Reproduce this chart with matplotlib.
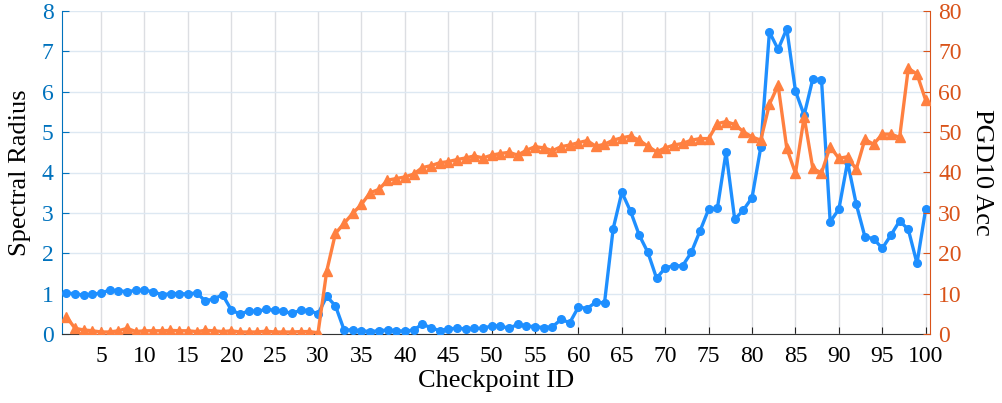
import matplotlib
matplotlib.use("Agg")
import matplotlib.pyplot as plt
import numpy as np

checkpoints = list(range(1, 101))
spectral_radius = [
    1.01, 1.00, 0.96, 0.99, 1.01, 1.09, 1.07, 1.05, 1.08, 1.08,
    1.05, 0.97, 1.00, 1.00, 0.99, 1.02, 0.82, 0.87, 0.97, 0.60,
    0.49, 0.57, 0.56, 0.61, 0.59, 0.56, 0.51, 0.59, 0.58, 0.50,
    0.93, 0.70, 0.10, 0.10, 0.08, 0.06, 0.08, 0.10, 0.08, 0.07,
    0.10, 0.24, 0.16, 0.08, 0.13, 0.14, 0.13, 0.14, 0.14, 0.20,
    0.20, 0.14, 0.24, 0.20, 0.18, 0.16, 0.18, 0.36, 0.28, 0.67,
    0.63, 0.79, 0.77, 2.61, 3.51, 3.04, 2.45, 2.02, 1.38, 1.64,
    1.69, 1.69, 2.02, 2.55, 3.09, 3.11, 4.50, 2.84, 3.07, 3.38,
    4.62, 7.48, 7.05, 7.56, 6.02, 5.42, 6.32, 6.30, 2.78, 3.09,
    4.26, 3.22, 2.41, 2.36, 2.12, 2.45, 2.80, 2.59, 1.75, 3.09,
]
pgd10_acc = [
    4.3, 1.4, 1.0, 0.8, 0.5, 0.5, 0.8, 1.4, 0.6, 0.8,
    0.8, 0.8, 0.9, 0.8, 0.8, 0.6, 0.9, 0.8, 0.6, 0.8,
    0.5, 0.5, 0.5, 0.7, 0.5, 0.5, 0.5, 0.6, 0.6, 0.3,
    15.6, 24.9, 27.4, 29.9, 32.1, 35.0, 35.8, 38.1, 38.5, 38.9,
    39.6, 41.2, 41.7, 42.4, 42.7, 43.2, 43.6, 44.1, 43.6, 44.3,
    44.7, 45.0, 44.3, 45.5, 46.4, 46.1, 45.4, 46.4, 46.8, 47.4,
    47.9, 46.5, 47.0, 48.0, 48.6, 49.0, 48.0, 46.5, 45.1, 46.1,
    46.8, 47.2, 48.0, 48.4, 48.4, 52.1, 52.6, 51.9, 50.1, 48.8,
    48.0, 56.9, 61.6, 46.0, 39.8, 53.8, 41.0, 39.9, 46.4, 43.5,
    43.9, 40.8, 48.2, 47.0, 49.5, 49.5, 48.7, 65.8, 64.4, 57.9,
]
x_ticks = list(range(5, 101, 5))

left_color = "#0072BD"
right_color = "#D95319"
blue = "#1E8FFF"
orange = "#FF8040"

plt.rcParams['font.family'] = ['Liberation Serif', 'DejaVu Serif']

fig = plt.figure(figsize=(10.02, 4.03), dpi=100)
ax = fig.add_axes([62/1002, 1-334/403, (930-62)/1002, (334-11)/403])
ax2 = ax.twinx()

ax.plot(checkpoints, spectral_radius, color=blue, lw=2.4, marker='o', ms=5.5, zorder=3)
ax2.plot(checkpoints, pgd10_acc, color=orange, lw=2.4, marker='^', ms=7, zorder=3)

ax.set_xlim(0.5, 100.5)
ax.set_ylim(0, 8)
ax2.set_ylim(0, 80)
ax.set_xticks(x_ticks)
ax.set_yticks(range(0, 9))
ax2.set_yticks(range(0, 81, 10))

ax.grid(True, axis='y', color='#DDE8F2', lw=1.0)
ax.grid(True, axis='x', color='#DCDEE2', lw=1.0)
ax.set_axisbelow(True)

for a in (ax, ax2):
    a.spines['top'].set_visible(False)
ax.spines['right'].set_visible(False)
ax.spines['left'].set_color(left_color)
ax.spines['bottom'].set_color('#333333')
ax2.spines['left'].set_visible(False)
ax2.spines['bottom'].set_visible(False)
ax2.spines['right'].set_color(right_color)

ax.tick_params(axis='x', direction='in', length=5, colors='#222222', labelsize=17, pad=9)
ax.tick_params(axis='x', labelcolor='black')
ax.tick_params(axis='y', direction='in', length=5, colors=left_color, labelsize=17, pad=6)
ax2.tick_params(axis='y', direction='in', length=5, colors=right_color, labelsize=17, pad=6)

ax.set_xlabel("Checkpoint ID", fontsize=19, labelpad=2)
ax.set_ylabel("Spectral Radius", fontsize=19, color='black', labelpad=8)
ax2.set_ylabel("PGD10 Acc", fontsize=19, color='black', rotation=270, labelpad=22)

fig.savefig("out.png", dpi=100)
